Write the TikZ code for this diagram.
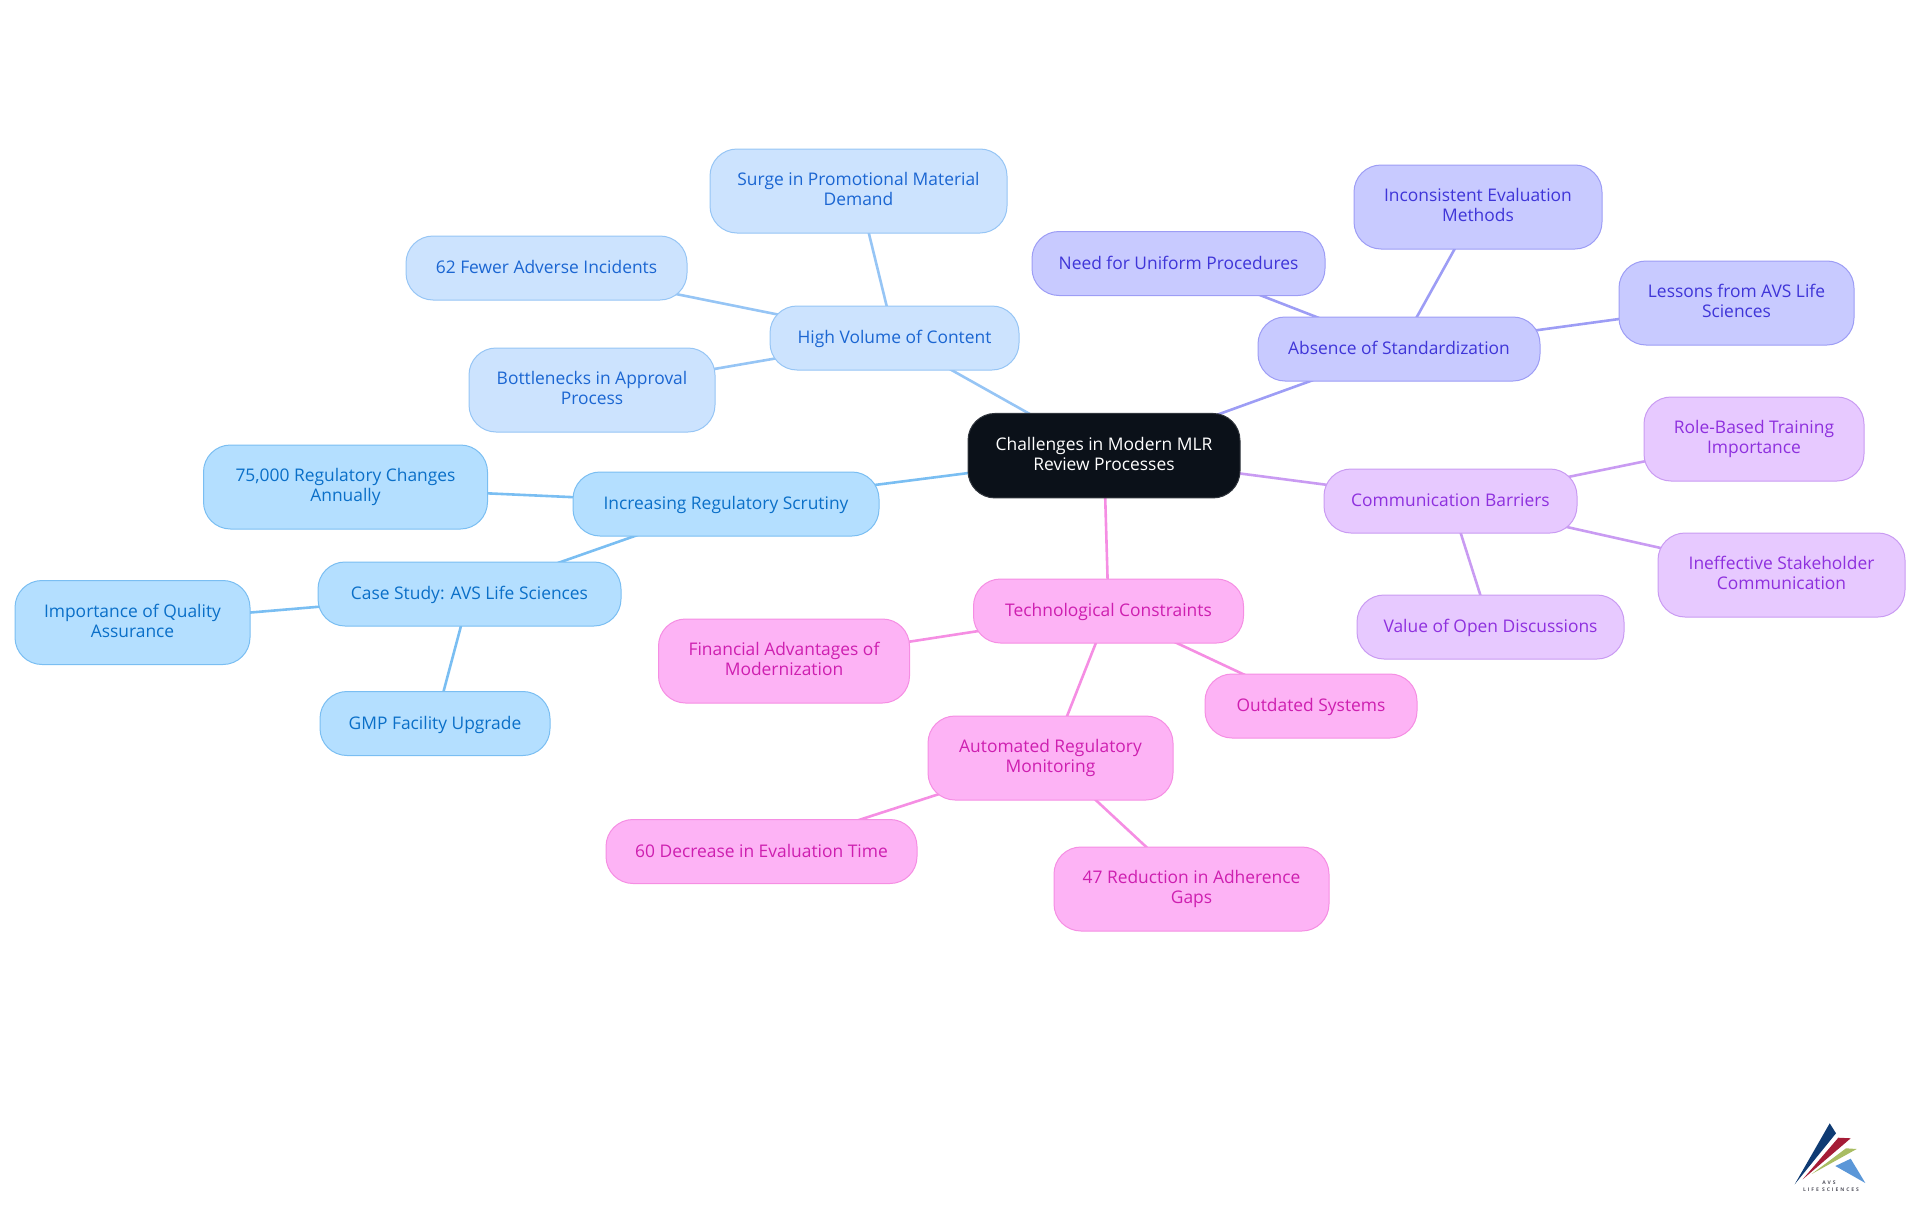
\documentclass[tikz,border=0pt]{standalone}
\usepackage{fontspec}
\setmainfont{Open Sans}
\usetikzlibrary{backgrounds}
\definecolor{hvF}{HTML}{CCE3FE}\definecolor{hvS}{HTML}{96C5F5}\definecolor{hvT}{HTML}{1B66D2}
\definecolor{inF}{HTML}{B4DFFF}\definecolor{inS}{HTML}{7ABEF2}\definecolor{inT}{HTML}{0A6FC8}
\definecolor{abF}{HTML}{C8CAFF}\definecolor{abS}{HTML}{9D9DF5}\definecolor{abT}{HTML}{3F35D8}
\definecolor{coF}{HTML}{E7C9FF}\definecolor{coS}{HTML}{C99BF2}\definecolor{coT}{HTML}{8E30DE}
\definecolor{teF}{HTML}{FDB3F5}\definecolor{teS}{HTML}{F58EE3}\definecolor{teT}{HTML}{CE1FB0}
\definecolor{rootF}{HTML}{0B1119}
\definecolor{lgNavy}{HTML}{0F3B73}\definecolor{lgRed}{HTML}{A51C36}\definecolor{lgGreen}{HTML}{A9BD63}\definecolor{lgBlue}{HTML}{5B97D8}\definecolor{lgText}{HTML}{555560}
\newcommand{\mmstrut}{\rule[-3.9pt]{0pt}{19.6pt}}
\tikzset{
  x=1pt,y=-1pt,
  box/.style 2 args={rectangle,rounded corners=27pt,inner sep=0pt,outer sep=0pt,line width=1pt,align=center,
    minimum width=#1pt,minimum height=#2pt,font=\fontsize{17.4}{19.6}\selectfont,
    execute at begin node=\mmstrut,execute at end node=\mmstrut},
  root/.style={draw=rootF!85!white,fill=rootF,text=white},
  hv/.style={draw=hvS,fill=hvF,text=hvT},
  inc/.style={draw=inS,fill=inF,text=inT},
  abs/.style={draw=abS,fill=abF,text=abT},
  com/.style={draw=coS,fill=coF,text=coT},
  tec/.style={draw=teS,fill=teF,text=teT},
  link/.style={line width=2.6pt},
  logotext/.style={inner sep=0pt,text=lgText,font=\fontsize{5}{5.5}\selectfont\bfseries\addfontfeature{LetterSpace=39}},
}
\begin{document}
\begin{tikzpicture}
\useasboundingbox (0,0) rectangle (1920,1215);
\node[box={272}{84.5},root] (c) at (1104,455.7) {Challenges in Modern MLR\\Review Processes};
\node[box={249}{64},hv] (hv) at (894.5,338) {High Volume of Content};
\node[box={297}{84},hv] (surge) at (858.5,191) {Surge in Promotional Material\\Demand};
\node[box={281}{64},hv] (fewer) at (546.5,268) {62 Fewer Adverse Incidents};
\node[box={246}{84},hv] (bott) at (592,390) {Bottlenecks in Approval\\Process};
\node[box={306}{64},inc] (incr) at (726,504) {Increasing Regulatory Scrutiny};
\node[box={284}{84},inc] (reg) at (345.5,487) {75,000 Regulatory Changes\\Annually};
\node[box={303}{64},inc] (case) at (469.5,594) {Case Study: AVS Life Sciences};
\node[box={235}{84},inc] (qual) at (132.5,622.5) {Importance of Quality\\Assurance};
\node[box={230}{64},inc] (gmp) at (435,723.5) {GMP Facility Upgrade};
\node[box={282}{64},abs] (abs) at (1399,349) {Absence of Standardization};
\node[box={293}{64},abs] (need) at (1178.5,263.5) {Need for Uniform Procedures};
\node[box={248}{84},abs] (incons) at (1478,207) {Inconsistent Evaluation\\Methods};
\node[box={235}{84},abs] (less) at (1736.5,303) {Lessons from AVS Life\\Sciences};
\node[box={253}{64},com] (comm) at (1450.5,501) {Communication Barriers};
\node[box={220}{84},com] (role) at (1754,439) {Role-Based Training\\Importance};
\node[box={247}{84},com] (ineff) at (1781.5,575) {Ineffective Stakeholder\\Communication};
\node[box={267}{64},com] (open) at (1490.5,627) {Value of Open Discussions};
\node[box={270}{64},tec] (tech) at (1108.5,611) {Technological Constraints};
\node[box={251}{84},tec] (fin) at (784,661) {Financial Advantages of\\Modernization};
\node[box={212}{64},tec] (outd) at (1311,706) {Outdated Systems};
\node[box={245}{84},tec] (auto) at (1050.5,758) {Automated Regulatory\\Monitoring};
\node[box={311}{64},tec] (dec) at (761.5,851.5) {60 Decrease in Evaluation Time};
\node[box={275}{84},tec] (gaps) at (1191.5,889) {47 Reduction in Adherence\\Gaps};
\begin{scope}[on background layer]
\draw[link,hvS] (c.center)--(hv.center) (hv.center)--(surge.center) (hv.center)--(fewer.center) (hv.center)--(bott.center);
\draw[link,inS] (c.center)--(incr.center) (incr.center)--(reg.center) (incr.center)--(case.center) (case.center)--(qual.center) (case.center)--(gmp.center);
\draw[link,abS] (c.center)--(abs.center) (abs.center)--(need.center) (abs.center)--(incons.center) (abs.center)--(less.center);
\draw[link,coS] (c.center)--(comm.center) (comm.center)--(role.center) (comm.center)--(ineff.center) (comm.center)--(open.center);
\draw[link,teS] (c.center)--(tech.center) (tech.center)--(fin.center) (tech.center)--(outd.center) (tech.center)--(auto.center) (auto.center)--(dec.center) (auto.center)--(gaps.center);
\end{scope}
% logo
\fill[lgNavy] (1829.7,1123.3)--(1836,1133.3)--(1794.7,1184.3)--cycle;
\fill[lgRed] (1838.3,1137.7)--(1850.7,1138.3)--(1802.7,1179.3)--cycle;
\fill[lgGreen] (1846,1148.3)--(1856.7,1149)--(1811.7,1174)--cycle;
\fill[lgBlue] (1850.7,1158.7)--(1865.3,1183)--(1835.3,1166)--cycle;
\node[logotext] (lga) at (1829,1182.4) {AVS};
\node[logotext] (lgb) at (1831,1189.4) {LIFE SCIENCES};
\end{tikzpicture}
\end{document}
